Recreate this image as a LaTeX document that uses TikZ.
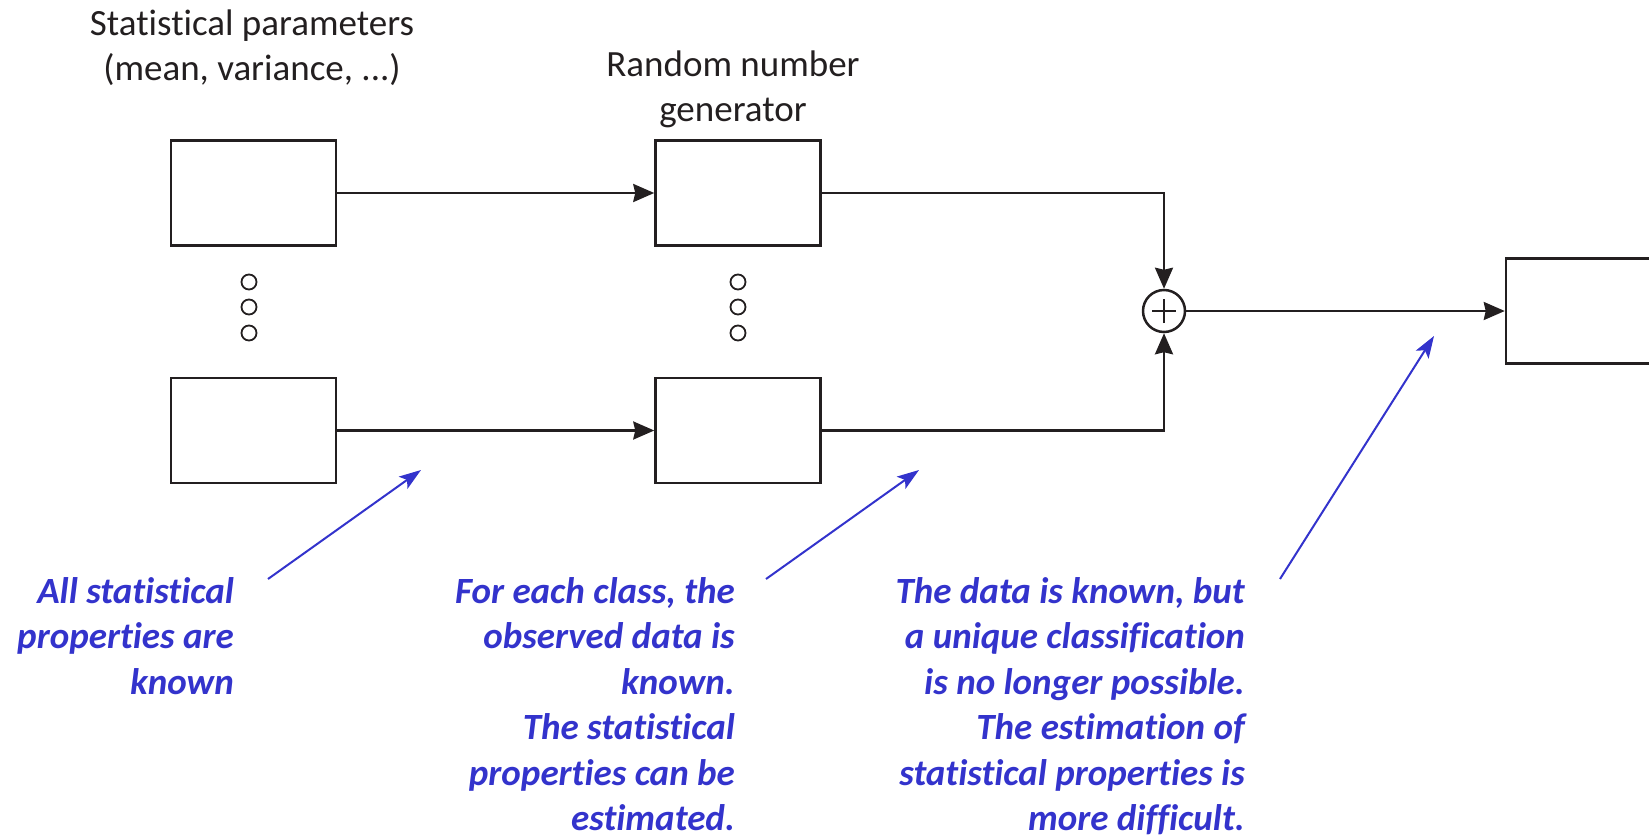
\documentclass[tikz,border=0pt]{standalone}
\usepackage{fontspec}
\setmainfont{Carlito}[Ligatures=NoCommon]
\usetikzlibrary{arrows.meta}
\definecolor{ink}{RGB}{35,31,32}
\definecolor{noteblue}{RGB}{51,51,204}
\begin{document}
\begin{tikzpicture}[x=1pt,y=-1pt,
  block/.style={draw=ink, line width=2.5pt, minimum width=165pt, minimum height=105pt, inner sep=0pt},
  flow/.style={draw=ink, line width=2.5pt, -{Stealth[length=21pt,width=18pt,inset=2pt]}},
  dot/.style={circle, draw=ink, line width=1.8pt, minimum size=15pt, inner sep=0pt},
  caption/.style={font=\fontsize{37}{45}\selectfont, align=center, text=ink, inner sep=0pt, anchor=north},
  note/.style={font=\fontsize{37}{45.5}\selectfont\bfseries\itshape, align=right, text=noteblue, inner sep=0pt, anchor=north east},
  pointer/.style={draw=noteblue, line width=2pt, -{Stealth[length=22pt,width=15pt,inset=5pt]}}]

\useasboundingbox (0,0) rectangle (1649,835);

% parameter blocks and random number generators
\node[block] (p1) at (253.5,193) {};
\node[block] (pn) at (253.5,430.5) {};
\node[block] (g1) at (738,193) {};
\node[block] (gn) at (738,430.5) {};
\node[block] (out) at (1588.5,311) {};

% vertical ellipsis between first and last class
\node[dot] (pd1) at (249,282) {};
\node[dot] (pd2) at (249,307) {};
\node[dot] (pd3) at (249,333) {};
\node[dot] (gd1) at (738,282) {};
\node[dot] (gd2) at (738,307) {};
\node[dot] (gd3) at (738,333) {};

% summation point
\node[circle, draw=ink, line width=2.5pt, minimum size=42pt, inner sep=0pt] (sum) at (1164,311) {};
\draw[ink, line width=2pt] ([xshift=-12pt]sum.center) -- ([xshift=12pt]sum.center)
  ([yshift=-12pt]sum.center) -- ([yshift=12pt]sum.center);

% signal flow
\draw[flow] (p1.east) -- (g1.west);
\draw[flow] (pn.east) -- (gn.west);
\draw[flow] (g1.east) -| (sum.north);
\draw[flow] (gn.east) -| (sum.south);
\draw[flow] (sum.east) -- (out.west);

% captions
\node[caption] (cap1) at (252,10) {Statistical parameters\\(mean, variance, ...)};
\node[caption] (cap2) at (733,51) {Random number\\generator};

% annotations
\node[note] (n1) at (234,577) {All statistical\\properties are\\known};
\node[note] (n2) at (735,577) {For each class, the\\observed data is\\known.\\The statistical\\properties can be\\estimated.};
\node[note] (n3) at (1245,577) {The data is known, but\\a unique classification\\is no longer possible.\\The estimation of\\statistical properties is\\more difficult.};

\coordinate (t1) at (421,470);
\coordinate (t2) at (919,470);
\coordinate (t3) at (1434,336);
\draw[pointer] (268,579) coordinate (s1) -- (t1);
\draw[pointer] (766,579) coordinate (s2) -- (t2);
\draw[pointer] (1280,579) coordinate (s3) -- (t3);
\end{tikzpicture}
\end{document}
